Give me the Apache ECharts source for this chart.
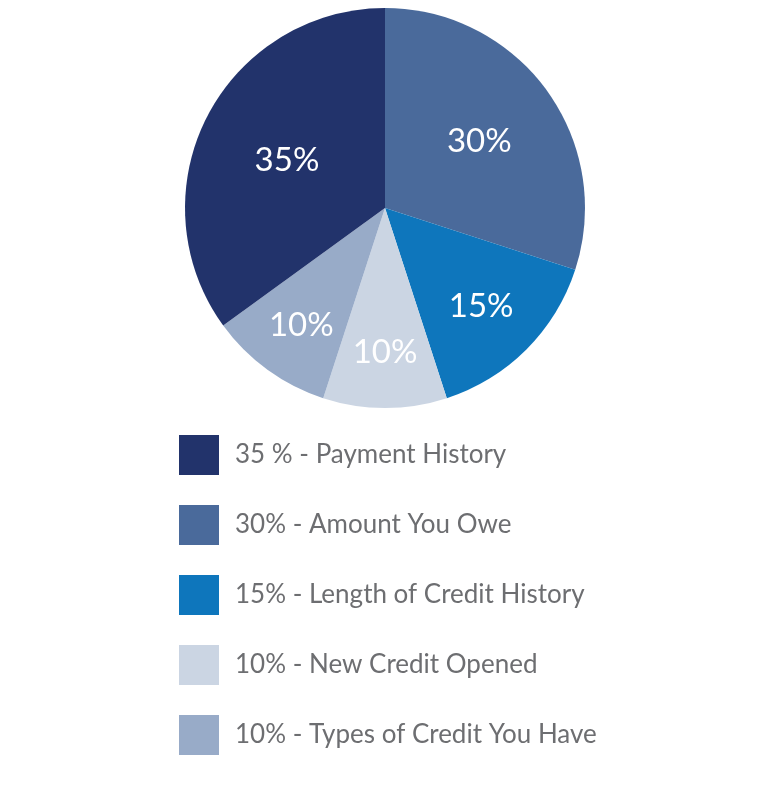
<!DOCTYPE html>
<html>
<head>
<meta charset="utf-8">
<script src="https://cdn.jsdelivr.net/npm/echarts@6/dist/echarts.min.js"></script>
<style>
    html, body { margin: 0; padding: 0; background: #fff; }
    #chart { width: 767px; height: 796px; }
</style>
</head>
<body>
<div id="chart"></div>
<script>
    // slices clockwise from 12 o'clock
    const names = ['30% - Amount You Owe', '15% - Length of Credit History', '10% - New Credit Opened', '10% - Types of Credit You Have', '35 % - Payment History'];
    const values = [30, 15, 10, 10, 35];
    const colors = ['#4a6a9b', '#0e76bc', '#cbd5e3', '#98abc8', '#22336b'];
    const legendOrder = ['35 % - Payment History', '30% - Amount You Owe', '15% - Length of Credit History', '10% - New Credit Opened', '10% - Types of Credit You Have'];

    const cx = 385, cy = 208;
    const chart = echarts.init(document.getElementById('chart'));
    chart.setOption({
        animation: false,
        legend: {
            data: legendOrder,
            orient: 'vertical',
            left: 179,
            top: 435,
            padding: 0,
            itemWidth: 40,
            itemHeight: 40,
            itemGap: 30,
            icon: 'rect',
            textStyle: {
                fontFamily: 'Lato',
                fontSize: 26,
                color: '#6d6e71',
                padding: [0, 0, 0, 11]
            }
        },
        series: [{
            type: 'pie',
            center: [cx, cy],
            radius: [0, 200],
            startAngle: 90,
            clockwise: true,
            label: {
                position: 'inside',
                color: '#fff',
                fontFamily: 'Lato',
                fontSize: 33,
                formatter: p => p.value + '%'
            },
            // push the small slices' labels further out
            labelLayout: p => {
                const lx = p.labelRect.x + p.labelRect.width / 2 - cx;
                const ly = p.labelRect.y + p.labelRect.height / 2 - cy;
                const k = (110 + (35 - values[p.dataIndex]) * 1.3) / Math.sqrt(lx * lx + ly * ly);
                return { dx: lx * (k - 1), dy: ly * (k - 1) + 2 };
            },
            emphasis: { disabled: true },
            data: names.map((n, i) => ({ name: n, value: values[i], itemStyle: { color: colors[i] } }))
        }]
    });
</script>
</body>
</html>
